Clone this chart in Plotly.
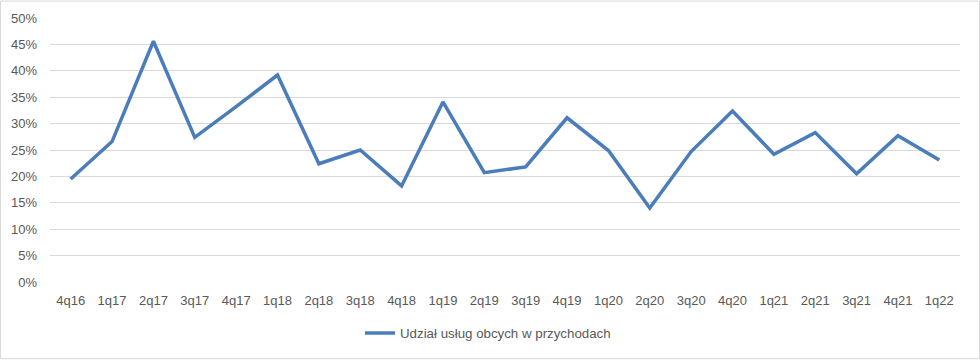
import plotly.graph_objects as go

categories = ["4q16", "1q17", "2q17", "3q17", "4q17", "1q18", "2q18", "3q18", "4q18",
              "1q19", "2q19", "3q19", "4q19", "1q20", "2q20", "3q20", "4q20",
              "1q21", "2q21", "3q21", "4q21", "1q22"]
share = [0.195, 0.266, 0.456, 0.274, 0.332, 0.392, 0.224, 0.250, 0.182,
         0.341, 0.207, 0.218, 0.311, 0.249, 0.140, 0.247, 0.324,
         0.242, 0.283, 0.205, 0.277, 0.231]
series_name = "Udział usług obcych w przychodach"
y_ticks = [i / 100 for i in range(0, 51, 5)]

W, H = 980, 360
ml, mr, mt, mb = 50, 20, 17.5, 77.5
pw, ph = W - ml - mr, H - mt - mb

fig = go.Figure()
fig.add_trace(go.Scatter(
    x=categories, y=share, mode="lines", name=series_name,
    line=dict(color="#4a7dba", width=3.5),
))

fig.update_layout(
    width=W, height=H,
    margin=dict(l=ml, r=mr, t=mt, b=mb, autoexpand=False),
    paper_bgcolor="white", plot_bgcolor="white",
    font=dict(family="Liberation Sans, Arial, sans-serif", size=13, color="#595959"),
    showlegend=True,
    legend=dict(orientation="h", x=(488 - ml) / pw, xanchor="center",
                y=-(334 - (mt + ph)) / ph, yanchor="middle",
                itemwidth=30,
                font=dict(size=13.3, color="#595959")),
    xaxis=dict(showgrid=False, zeroline=False, showline=False, ticks="",
               range=[-0.5, len(categories) - 0.5], tickfont=dict(size=13),
               ticklabelstandoff=9),
    yaxis=dict(range=[0, 0.5], tickvals=y_ticks, tickformat=".0%",
               showgrid=True, gridcolor="#d9d9d9", gridwidth=1,
               zeroline=False, showline=False, ticks="", ticklabelstandoff=12,
               tickfont=dict(size=13)),
    shapes=[dict(type="rect", xref="paper", yref="paper",
                 x0=(0.5 - ml) / pw, x1=(W - 0.5 - ml) / pw,
                 y0=-(H - 0.5 - mt - ph) / ph, y1=(mt - 0.5) / ph + 1,
                 line=dict(color="#d9d9d9", width=1), layer="below")],
)

fig.write_html("out.html", config={"displayModeBar": False},
               post_script="document.body.style.margin='0';")
